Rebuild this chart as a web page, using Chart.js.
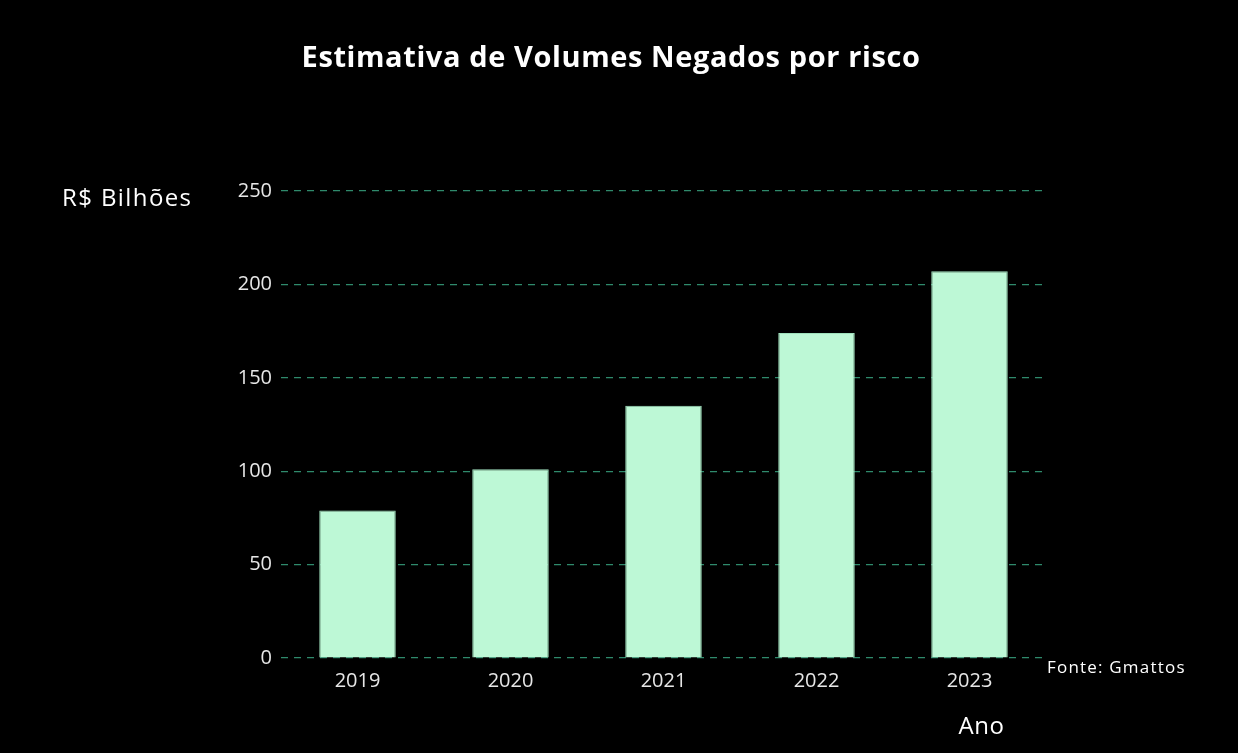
<!DOCTYPE html>
<html><head><meta charset="utf-8">
<script src="https://cdn.jsdelivr.net/npm/chart.js@4/dist/chart.umd.min.js"></script>
<style>html,body{margin:0;padding:0;background:#000;}canvas{display:block;}</style>
</head><body>
<canvas id="c" width="1238" height="753"></canvas>
<script>
const title = "Estimativa de Volumes Negados por risco";
const categories = ["2019", "2020", "2021", "2022", "2023"];
const values = [79, 101, 135, 174, 207];
const yTicks = [0, 50, 100, 150, 200, 250];
const yTitle = "R$ Bilhões";
const xTitle = "Ano";
const source = "Fonte: Gmattos";

const textPlugin = {
  id: 'texts',
  afterDraw(chart) {
    const ctx = chart.ctx;
    const x = chart.scales.x, y = chart.scales.y;
    ctx.save();
    ctx.fillStyle = '#ffffff';
    ctx.textBaseline = 'middle';
    ctx.font = 'bold 29px "Open Sans"';
    ctx.letterSpacing = '0.6px';
    ctx.textAlign = 'center';
    ctx.fillText(title, 611, 59);
    ctx.font = '24px "Open Sans"';
    ctx.letterSpacing = '1.4px';
    ctx.textAlign = 'left';
    ctx.fillText(yTitle, 62, y.getPixelForValue(250) + 8);
    ctx.font = '24px "Open Sans"';
    ctx.letterSpacing = '0.5px';
    ctx.textAlign = 'center';
    ctx.fillText(xTitle, x.getPixelForValue(4) + 12, 727);
    ctx.font = '17px "Open Sans"';
    ctx.letterSpacing = '1.2px';
    ctx.textAlign = 'left';
    ctx.fillText(source, 1047, 668);
    ctx.restore();
  }
};

new Chart(document.getElementById('c'), {
  type: 'bar',
  data: {
    labels: categories,
    datasets: [{
      data: values,
      backgroundColor: '#bdf8d6',
      borderColor: '#9fe0bd',
      borderWidth: 1,
      categoryPercentage: 1,
      barPercentage: 0.5
    }]
  },
  options: {
    responsive: false,
    animation: false,
    devicePixelRatio: 1,
    layout: { padding: { top: 191, right: 192, bottom: 0, left: 0 } },
    plugins: { legend: { display: false }, tooltip: { enabled: false }, title: { display: false } },
    scales: {
      x: {
        grid: { display: false },
        border: { display: false },
        ticks: { color: '#e6e6e6', font: { family: 'Open Sans', size: 20 }, padding: 3, maxRotation: 0 },
        afterFit(s) { s.height = 95; }
      },
      y: {
        min: 0, max: 250,
        afterBuildTicks(s) { s.ticks = yTicks.map(v => ({ value: v })); },
        grid: { color: '#2f8a6c', lineWidth: 1.2, drawTicks: false },
        border: { display: false, dash: [7, 6] },
        ticks: { color: '#e6e6e6', font: { family: 'Open Sans', size: 20 }, padding: 9 },
        afterFit(s) { s.width = 281; }
      }
    }
  },
  plugins: [textPlugin]
});
</script>
</body></html>
